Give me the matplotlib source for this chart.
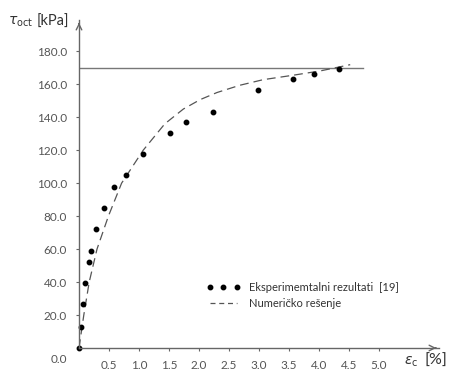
#!/usr/bin/env python3

"""."""
from matplotlib import pyplot as plt
from matplotlib.lines import Line2D

# experimental points [19]
EXP_STRAIN = [0.0, 0.03, 0.06, 0.10, 0.16, 0.20, 0.28, 0.42, 0.59, 0.78,
              1.07, 1.52, 1.78, 2.23, 2.98, 3.57, 3.92, 4.33]
EXP_TAU = [0.0, 12.9, 26.5, 39.2, 52.3, 58.8, 71.9, 85.0, 97.8, 104.8,
           117.6, 130.5, 137.2, 143.2, 156.4, 163.4, 166.1, 169.3]

# numerical solution
NUM_STRAIN = [0.0, 0.04, 0.08, 0.17, 0.30, 0.49, 0.71, 1.07, 1.43, 1.74,
              2.02, 2.30, 2.68, 3.07, 3.57, 4.02, 4.52]
NUM_TAU = [0.0, 10.0, 20.0, 40.0, 60.0, 80.0, 100.0, 120.0, 136.0, 145.0,
           150.7, 155.0, 159.4, 162.8, 165.5, 168.1, 171.9]

# limit stress
TAU_LIMIT = 169.7
LIMIT_END = 4.73

X_TICKS = [0.5, 1.0, 1.5, 2.0, 2.5, 3.0, 3.5, 4.0, 4.5, 5.0]
Y_TICKS = [20.0, 40.0, 60.0, 80.0, 100.0, 120.0, 140.0, 160.0, 180.0]

GRAY = '#555555'
plt.rcParams['font.family'] = ['Lato', 'DejaVu Sans']

fig = plt.figure(figsize=(4.5, 3.78), dpi=100)
ax = fig.add_axes([79/450, 30/378, 360/450, 328/378])

ax.plot([0, LIMIT_END], [TAU_LIMIT, TAU_LIMIT], color='#777777', lw=1.0)
ax.plot(NUM_STRAIN, NUM_TAU, color=GRAY, lw=0.9, dashes=(7, 4))
ax.plot(EXP_STRAIN, EXP_TAU, 'o', color='black', ms=3.2, clip_on=False)

ax.set_xlim(0, 6.0)
ax.set_ylim(0, 199)
for side in ('top', 'right'):
    ax.spines[side].set_visible(False)
for side in ('left', 'bottom'):
    ax.spines[side].set_color('#666666')
    ax.spines[side].set_linewidth(1.0)

# axis arrows
ax.annotate('', xy=(6.0, 0), xytext=(5.9, 0), xycoords='data',
            arrowprops=dict(arrowstyle='->', color='#666666', lw=1.0),
            annotation_clip=False)
ax.annotate('', xy=(0, 199), xytext=(0, 195), xycoords='data',
            arrowprops=dict(arrowstyle='->', color='#666666', lw=1.0),
            annotation_clip=False)

ax.set_xticks(X_TICKS)
ax.set_xticklabels(['{:.1f}'.format(v) for v in X_TICKS])
ax.set_yticks(Y_TICKS)
ax.set_yticklabels(['{:.1f}'.format(v) for v in Y_TICKS])
ax.tick_params(axis='both', colors='#666666', labelcolor='#555555',
               labelsize=8.5, length=2.5, width=0.8)
ax.tick_params(axis='y', pad=6)
ax.tick_params(axis='x', pad=6)

# origin label
ax.text(-0.33, -7, '0.0', ha='center', va='center', fontsize=8.5,
        color='#555555', clip_on=False)

# axis titles
fig.text(8/450, 1 - 22/378, r'$\mathit{\tau}_{\mathrm{oct}}$', fontsize=10,
         color='#333333', va='center', ha='left')
fig.text(37/450, 1 - 22/378, '[kPa]', fontsize=10.5, color='#333333',
         va='center', ha='left')
fig.text(404/450, 1 - 362/378, r'$\mathit{\varepsilon}_{\mathrm{c}}$',
         fontsize=10, color='#333333', va='center', ha='left')
fig.text(424/450, 1 - 361/378, '[%]', fontsize=11.5, color='#333333',
         va='center', ha='left')

handles = [
    Line2D([], [], linestyle='none', marker='o', color='black', ms=3.2),
    Line2D([], [], color=GRAY, lw=0.9, dashes=(4, 3)),
]
leg = ax.legend(handles, ['Eksperimemtalni rezultati  [19]',
                          'Numeričko rešenje'],
                loc='upper left', bbox_to_anchor=(120/360, 1 - 254/328),
                frameon=False, fontsize=8, numpoints=3, handlelength=3.0,
                handletextpad=0.8, labelspacing=0.5, borderpad=0.2)
for txt in leg.get_texts():
    txt.set_color('#333333')

fig.savefig('out.png', dpi=100)
